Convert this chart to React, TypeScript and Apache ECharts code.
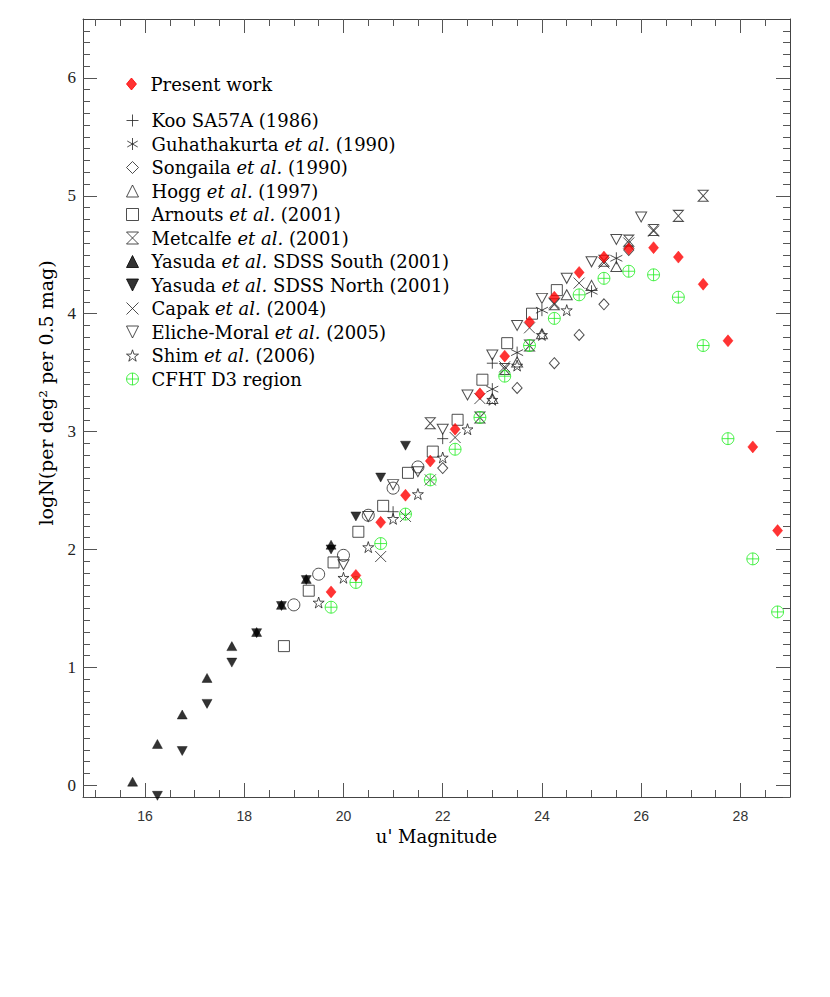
import React, { useEffect, useRef } from 'react';
import * as echarts from 'echarts';

// ---- data: [u' magnitude, logN] ----
const presentWork = [
  [19.75, 1.64], [20.25, 1.78], [20.75, 2.23], [21.25, 2.46], [21.75, 2.75], [22.25, 3.02],
  [22.75, 3.32], [23.25, 3.64], [23.75, 3.93], [24.25, 4.14], [24.75, 4.35], [25.25, 4.48],
  [25.75, 4.55], [26.25, 4.56], [26.75, 4.48], [27.25, 4.25], [27.75, 3.77], [28.25, 2.87], [28.75, 2.16],
];
const kooSA57A = [[21.0, 2.32], [22.0, 2.94], [23.0, 3.58]];
const guhathakurta = [[23.0, 3.36], [23.5, 3.67], [24.0, 4.03], [25.0, 4.19], [25.5, 4.47]];
const songaila = [[22.0, 2.69], [23.5, 3.37], [24.25, 3.58], [24.75, 3.82], [25.25, 4.08], [25.75, 4.54]];
const hogg = [[23.0, 3.28], [23.5, 3.59], [24.0, 3.83], [24.5, 4.16], [25.0, 4.24], [25.5, 4.40]];
const arnouts = [
  [18.8, 1.18], [19.3, 1.65], [19.8, 1.89], [20.3, 2.15], [20.8, 2.37], [21.3, 2.65],
  [21.8, 2.83], [22.3, 3.10], [22.8, 3.44], [23.3, 3.75], [23.8, 4.00], [24.3, 4.20],
];
const metcalfe = [
  [21.75, 3.07], [22.75, 3.12], [23.25, 3.53], [23.75, 3.73], [24.25, 4.08],
  [25.25, 4.45], [25.75, 4.62], [26.25, 4.71], [26.75, 4.83], [27.25, 5.00],
];
const yasudaSouth = [
  [15.75, 0.03], [16.25, 0.35], [16.75, 0.60], [17.25, 0.91], [17.75, 1.18],
  [18.25, 1.30], [18.75, 1.53], [19.25, 1.75], [19.75, 2.04],
];
const yasudaNorth = [
  [16.25, -0.09], [16.75, 0.29], [17.25, 0.69], [17.75, 1.04], [18.25, 1.29], [18.75, 1.52],
  [19.25, 1.74], [19.75, 2.00], [20.25, 2.28], [20.75, 2.61], [21.25, 2.88],
];
const capak = [
  [20.75, 1.94], [21.25, 2.28], [21.75, 2.59], [22.25, 2.95], [22.75, 3.28], [23.25, 3.55],
  [23.75, 3.88], [24.25, 4.09], [24.75, 4.26], [25.25, 4.43], [25.75, 4.60], [26.25, 4.70],
];
const elicheMoral = [
  [20.0, 1.87], [20.5, 2.28], [21.0, 2.55], [21.5, 2.66], [22.0, 3.02], [22.5, 3.31], [23.0, 3.65],
  [23.5, 3.90], [24.0, 4.13], [24.5, 4.30], [25.0, 4.44], [25.5, 4.63], [26.0, 4.82],
];
const shim = [
  [19.5, 1.55], [20.0, 1.76], [20.5, 2.02], [21.0, 2.26], [21.5, 2.47], [22.0, 2.78],
  [22.5, 3.02], [23.0, 3.27], [23.5, 3.56], [24.0, 3.82], [24.5, 4.03],
];
const cfhtD3 = [
  [19.75, 1.51], [20.25, 1.72], [20.75, 2.05], [21.25, 2.30], [21.75, 2.59], [22.25, 2.85],
  [22.75, 3.12], [23.25, 3.47], [23.75, 3.73], [24.25, 3.96], [24.75, 4.16], [25.25, 4.30],
  [25.75, 4.36], [26.25, 4.33], [26.75, 4.14], [27.25, 3.73], [27.75, 2.94], [28.25, 1.92], [28.75, 1.47],
];
const openCircles = [[19.0, 1.53], [19.5, 1.79], [20.0, 1.95], [20.5, 2.29], [21.0, 2.52], [21.5, 2.70]];

const legendTop = ['Present work'];
const legendMain = [
  'Koo SA57A (1986)', 'Guhathakurta et al. (1990)', 'Songaila et al. (1990)', 'Hogg et al. (1997)',
  'Arnouts et al. (2001)', 'Metcalfe et al. (2001)', 'Yasuda et al. SDSS South (2001)',
  'Yasuda et al. SDSS North (2001)', 'Capak et al. (2004)', 'Eliche-Moral et al. (2005)',
  'Shim et al. (2006)', 'CFHT D3 region',
];

const xTitle = "u' Magnitude";
const yTitle = 'logN(per deg² per 0.5 mag)';
const xMajorTicks = [16, 18, 20, 22, 24, 26, 28];
const yMajorTicks = [0, 1, 2, 3, 4, 5, 6];
const X_MIN = 14.75, X_MAX = 29, Y_MIN = -0.1, Y_MAX = 6.5;

function minorTicks(from: number, to: number, step: number, majors: number[]) {
  const out: number[] = [];
  const n = Math.round((to - from) / step);
  for (let i = 0; i <= n; i++) {
    const v = Math.round((from + i * step) * 100) / 100;
    if (!majors.includes(v)) out.push(v);
  }
  return out;
}
const xMinorTicks = minorTicks(15, 28.5, 0.5, xMajorTicks);
const yMinorTicks = minorTicks(-0.1, 6.4, 0.1, yMajorTicks);

const SYM = {
  plus: 'path://M-1,0L1,0M0,-1L0,1',
  asterisk: 'path://M0,-1L0,1M-0.87,-0.5L0.87,0.5M-0.87,0.5L0.87,-0.5',
  triUp: 'path://M0,-1L1,1L-1,1Z',
  triDown: 'path://M-1,-1L1,-1L0,1Z',
  hourglass: 'path://M-1,-1L1,-1L-1,1L1,1Z',
  cross: 'path://M-1,-1L1,1M-1,1L1,-1',
  star: 'path://M0,-1L0.224,-0.309L0.951,-0.309L0.363,0.118L0.588,0.809L0,0.382L-0.588,0.809L-0.363,0.118L-0.951,-0.309L-0.224,-0.309Z',
  circlePlus: 'path://M-1,0A1,1,0,1,1,1,0A1,1,0,1,1,-1,0ZM-1,0L1,0M0,-1L0,1',
  diamond: 'path://M0,-1L0.83,0L0,1L-0.83,0Z',
};

const INK = '#222';
const GREEN = '#22ee22';
const RED = '#ff0000';
const SERIF = 'DejaVu Serif';
const FS = 18;

function openStyle(color = INK) {
  return { color: 'transparent', borderColor: color, borderWidth: 1 };
}

function makeLegend(top: number, data: string[]) {
  return {
    orient: 'vertical',
    align: 'left',
    left: 126,
    top,
    padding: 0,
    itemWidth: 12,
    itemHeight: 12,
    itemGap: 5.5,
    selectedMode: false,
    data: data.slice(),
    textStyle: {
      fontFamily: SERIF,
      fontSize: FS,
      lineHeight: FS,
      color: '#000',
      rich: {
        sp: { width: 8, fontSize: FS, lineHeight: FS },
        it: { fontFamily: SERIF, fontStyle: 'italic', fontSize: FS, lineHeight: FS, color: '#000' },
      },
    },
    itemStyle: { borderWidth: 1 },
    formatter: (name: string) => '{sp| }' + name.replace('et al.', '{it|et al.}'),
  };
}

export default function App() {
  const ref = useRef<HTMLDivElement>(null);
  useEffect(() => {
    if (!ref.current) return;
    const chart = echarts.init(ref.current, undefined, { renderer: 'svg' });

    const axisLineStyle = { color: '#444', width: 1 };
    const xAxisBase = { type: 'value', min: X_MIN, max: X_MAX, splitLine: { show: false } };
    const yAxisBase = { type: 'value', min: Y_MIN, max: Y_MAX, splitLine: { show: false } };

    const series: any[] = [
      { name: '_circles', data: openCircles, symbol: 'circle', symbolSize: 12, itemStyle: openStyle() },
      { name: 'Koo SA57A (1986)', data: kooSA57A, symbol: SYM.plus, symbolSize: 11, itemStyle: openStyle() },
      { name: 'Guhathakurta et al. (1990)', data: guhathakurta, symbol: SYM.asterisk, symbolSize: 12, itemStyle: openStyle() },
      { name: 'Songaila et al. (1990)', data: songaila, symbol: 'diamond', symbolSize: [10, 11], itemStyle: openStyle() },
      { name: 'Hogg et al. (1997)', data: hogg, symbol: SYM.triUp, symbolSize: [11, 10], itemStyle: openStyle() },
      { name: 'Arnouts et al. (2001)', data: arnouts, symbol: 'rect', symbolSize: 11, itemStyle: openStyle() },
      { name: 'Metcalfe et al. (2001)', data: metcalfe, symbol: SYM.hourglass, symbolSize: [10, 11], itemStyle: openStyle() },
      { name: 'Yasuda et al. SDSS South (2001)', data: yasudaSouth, symbol: SYM.triUp, symbolSize: [10, 9], itemStyle: { color: '#000', borderColor: '#000', borderWidth: 0.5 } },
      { name: 'Yasuda et al. SDSS North (2001)', data: yasudaNorth, symbol: SYM.triDown, symbolSize: [10, 9], itemStyle: { color: '#000', borderColor: '#000', borderWidth: 0.5 } },
      { name: 'Capak et al. (2004)', data: capak, symbol: SYM.cross, symbolSize: 11, itemStyle: openStyle() },
      { name: 'Eliche-Moral et al. (2005)', data: elicheMoral, symbol: SYM.triDown, symbolSize: [11, 10], itemStyle: openStyle() },
      { name: 'Shim et al. (2006)', data: shim, symbol: SYM.star, symbolSize: 11, itemStyle: openStyle() },
      { name: 'CFHT D3 region', data: cfhtD3, symbol: SYM.circlePlus, symbolSize: 12, itemStyle: openStyle(GREEN) },
      { name: 'Present work', data: presentWork, symbol: SYM.diamond, symbolSize: [10, 12], itemStyle: { color: RED, borderColor: RED, borderWidth: 0.5 } },
    ].map((s) => ({ type: 'scatter', xAxisIndex: 0, yAxisIndex: 0, silent: true, ...s }));

    chart.setOption({
      animation: false,
      backgroundColor: '#fff',
      grid: { left: 83, top: 19, right: 40, bottom: 200, containLabel: false },
      legend: [makeLegend(111.5, legendMain), makeLegend(75, legendTop)],
      graphic: [
        {
          type: 'text',
          x: 46,
          y: 393,
          rotation: Math.PI / 2,
          silent: true,
          style: {
            text: yTitle,
            fontFamily: SERIF,
            fontSize: 19,
            fill: '#000',
            align: 'center',
            verticalAlign: 'middle',
          },
        },
      ],
      xAxis: [
        {
          ...xAxisBase, position: 'bottom',
          axisLine: { show: true, onZero: false, lineStyle: axisLineStyle },
          axisTick: { show: true, inside: true, length: 14, customValues: xMajorTicks, lineStyle: { color: '#555' } },
          axisLabel: { show: true, customValues: xMajorTicks, margin: 12, fontFamily: 'Liberation Sans', fontSize: 14, color: '#333' },
          name: xTitle, nameLocation: 'middle', nameGap: 30,
          nameTextStyle: { fontFamily: SERIF, fontSize: FS, color: '#000' },
        },
        {
          ...xAxisBase, position: 'bottom',
          axisLine: { show: false, onZero: false },
          axisTick: { show: true, inside: true, length: 7, customValues: xMinorTicks, lineStyle: { color: '#555' } },
          axisLabel: { show: false },
        },
        {
          ...xAxisBase, position: 'top',
          axisLine: { show: true, onZero: false, lineStyle: axisLineStyle },
          axisTick: { show: true, inside: true, length: 14, customValues: xMajorTicks, lineStyle: { color: '#555' } },
          axisLabel: { show: false },
        },
        {
          ...xAxisBase, position: 'top',
          axisLine: { show: false, onZero: false },
          axisTick: { show: true, inside: true, length: 7, customValues: xMinorTicks, lineStyle: { color: '#555' } },
          axisLabel: { show: false },
        },
      ],
      yAxis: [
        {
          ...yAxisBase, position: 'left',
          axisLine: { show: true, onZero: false, lineStyle: axisLineStyle },
          axisTick: { show: true, inside: true, length: 14, customValues: yMajorTicks, lineStyle: { color: '#555' } },
          axisLabel: { show: true, customValues: yMajorTicks, margin: 7, fontFamily: 'Liberation Serif', fontSize: 17, color: '#222' },
        },
        {
          ...yAxisBase, position: 'left',
          axisLine: { show: false, onZero: false },
          axisTick: { show: true, inside: true, length: 7, customValues: yMinorTicks, lineStyle: { color: '#555' } },
          axisLabel: { show: false },
        },
        {
          ...yAxisBase, position: 'right',
          axisLine: { show: true, onZero: false, lineStyle: axisLineStyle },
          axisTick: { show: true, inside: true, length: 14, customValues: yMajorTicks, lineStyle: { color: '#555' } },
          axisLabel: { show: false },
        },
        {
          ...yAxisBase, position: 'right',
          axisLine: { show: false, onZero: false },
          axisTick: { show: true, inside: true, length: 7, customValues: yMinorTicks, lineStyle: { color: '#555' } },
          axisLabel: { show: false },
        },
      ],
      series,
    });
    return () => chart.dispose();
  }, []);

  return (
    <div
      ref={ref}
      style={{ position: 'absolute', left: 0, top: 0, width: 830, height: 997, background: '#fff' }}
    />
  );
}
